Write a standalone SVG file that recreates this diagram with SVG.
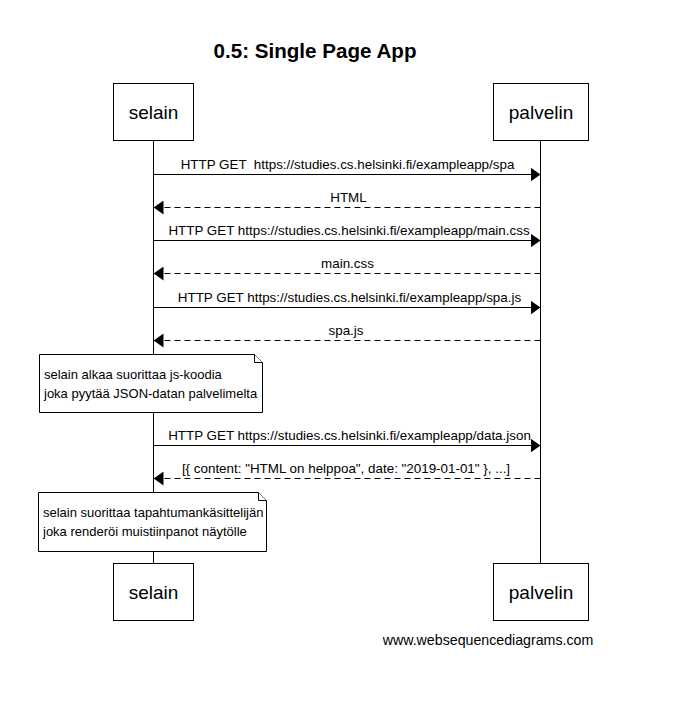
<svg xmlns="http://www.w3.org/2000/svg" width="675" height="714" viewBox="0 0 675 714">
<defs>
<style>
text{font-family:"Liberation Sans",Arial,sans-serif;fill:#000}
.actor rect{fill:#fff;stroke:#000;stroke-width:1}
.actor text{font-size:19px;text-anchor:middle}
.msg{font-size:13.4px;text-anchor:middle}
.note path{fill:#fff;stroke:#000;stroke-width:1}
.note text{font-size:13px}
.life{stroke:#000;stroke-width:1}
.solid{stroke:#000;stroke-width:1;fill:none}
.dash{stroke:#000;stroke-width:1;fill:none;stroke-dasharray:6,4}
</style>
<marker id="ah" markerWidth="10" markerHeight="14" refX="10" refY="7" orient="auto" markerUnits="userSpaceOnUse">
<path d="M0,0 L10,7 L0,14 Z" fill="#000"/>
</marker>
</defs>
<rect width="675" height="714" fill="#fff"/>
<text x="315" y="58" font-size="20.6" font-weight="bold" text-anchor="middle">0.5: Single Page App</text>
<g id="lifelines">
<line class="life" x1="153.5" y1="140" x2="153.5" y2="563"/>
<line class="life" x1="540.5" y1="140" x2="540.5" y2="563"/>
</g>
<g id="selain-top" class="actor"><rect x="113.5" y="83.5" width="80" height="57"/><text x="153.5" y="119">selain</text></g>
<g id="palvelin-top" class="actor"><rect x="493.5" y="83.5" width="95" height="57"/><text x="541" y="119">palvelin</text></g>
<g id="selain-bottom" class="actor"><rect x="113.5" y="563.5" width="80" height="57"/><text x="153.5" y="599">selain</text></g>
<g id="palvelin-bottom" class="actor"><rect x="493.5" y="563.5" width="95" height="57"/><text x="541" y="599">palvelin</text></g>
<g id="connectors">
<line class="solid" x1="153.5" y1="174.5" x2="540.5" y2="174.5" marker-end="url(#ah)"/>
<text class="msg" x="347.5" y="168.5" xml:space="preserve">HTTP GET  https://studies.cs.helsinki.fi/exampleapp/spa</text>
<line class="dash" x1="540.5" y1="207.5" x2="153.5" y2="207.5" marker-end="url(#ah)"/>
<text class="msg" x="348.5" y="202">HTML</text>
<line class="solid" x1="153.5" y1="240.5" x2="540.5" y2="240.5" marker-end="url(#ah)"/>
<text class="msg" x="349" y="235">HTTP GET https://studies.cs.helsinki.fi/exampleapp/main.css</text>
<line class="dash" x1="540.5" y1="273.5" x2="153.5" y2="273.5" marker-end="url(#ah)"/>
<text class="msg" x="347.5" y="268">main.css</text>
<line class="solid" x1="153.5" y1="307.5" x2="540.5" y2="307.5" marker-end="url(#ah)"/>
<text class="msg" x="349.5" y="302">HTTP GET https://studies.cs.helsinki.fi/exampleapp/spa.js</text>
<line class="dash" x1="540.5" y1="340.5" x2="153.5" y2="340.5" marker-end="url(#ah)"/>
<text class="msg" x="346" y="335">spa.js</text>
<line class="solid" x1="153.5" y1="445.5" x2="540.5" y2="445.5" marker-end="url(#ah)"/>
<text class="msg" x="349.5" y="440">HTTP GET https://studies.cs.helsinki.fi/exampleapp/data.json</text>
<line class="dash" x1="540.5" y1="478.5" x2="153.5" y2="478.5" marker-end="url(#ah)"/>
<text class="msg" x="346" y="473">[{ content: "HTML on helppoa", date: "2019-01-01" }, ...]</text>
</g>
<g id="note1" class="note">
<path d="M39.5,354.5 H254.5 L262.5,362.5 V412.5 H39.5 Z"/>
<path d="M254.5,354.5 V362.5 H262.5" fill="none"/>
<text x="44" y="379">selain alkaa suorittaa js-koodia</text>
<text x="44" y="398">joka pyytää JSON-datan palvelimelta</text>
</g>
<g id="note2" class="note">
<path d="M38.5,492.5 H258.5 L266.5,500.5 V551.5 H38.5 Z"/>
<path d="M258.5,492.5 V500.5 H266.5" fill="none"/>
<text x="43" y="517">selain suorittaa tapahtumankäsittelijän</text>
<text x="43" y="536">joka renderöi muistiinpanot näytölle</text>
</g>
<text x="488" y="645" font-size="14.2" text-anchor="middle">www.websequencediagrams.com</text>
</svg>
